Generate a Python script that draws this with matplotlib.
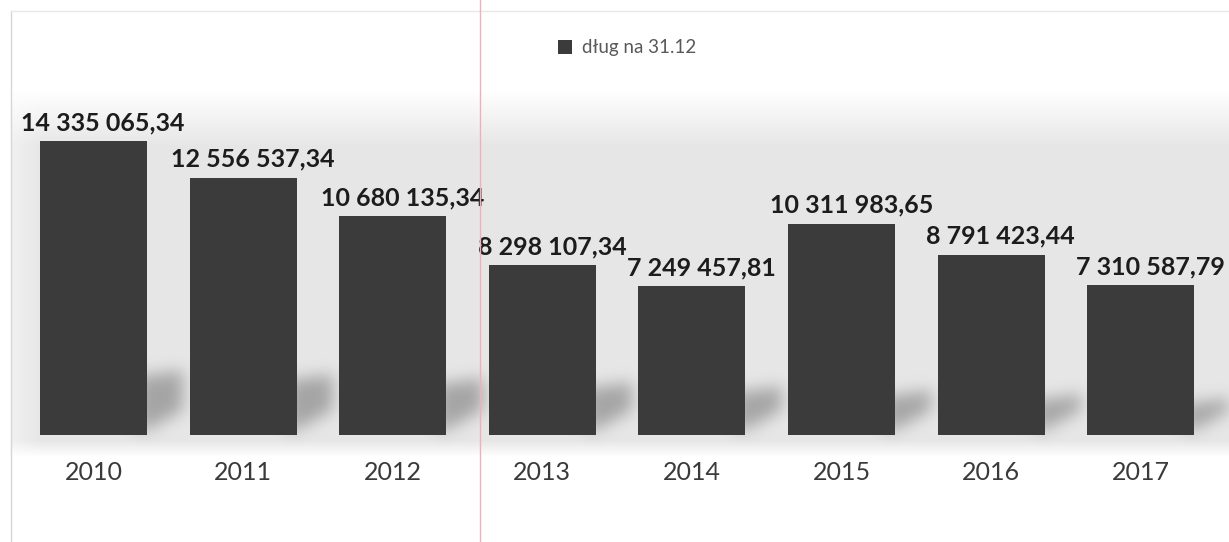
import numpy as np
import matplotlib
matplotlib.use('Agg')
import matplotlib.pyplot as plt
from matplotlib.lines import Line2D

plt.rcParams['font.family'] = ['Lato', 'DejaVu Sans']

# data
years = ['2010', '2011', '2012', '2013', '2014', '2015', '2016', '2017']
debt = [14335065.34, 12556537.34, 10680135.34, 8298107.34,
        7249457.81, 10311983.65, 8791423.44, 7310587.79]
series_name = 'dług na 31.12'

bar_color = '#3b3b3b'
W, H = 1229, 542


def pl_format(v):
    # 14 335 065,34 style
    s = f'{v:,.2f}'
    return s.replace(',', ' ').replace('.', ',')


def blur(img, sigma):
    r = int(3 * sigma)
    k = np.exp(-0.5 * (np.arange(-r, r + 1) / sigma) ** 2)
    k /= k.sum()
    img = np.apply_along_axis(lambda m: np.convolve(m, k, mode='same'), 1, img)
    img = np.apply_along_axis(lambda m: np.convolve(m, k, mode='same'), 0, img)
    return img


fig = plt.figure(figsize=(W / 100, H / 100), dpi=100)
ax = fig.add_axes([18.7 / W, (H - 435) / H, (1215.5 - 18.7) / W, (435 - 60) / H])
ax.set_xlim(-0.5, len(years) - 0.5)
ax.set_ylim(0, 18.3e6)
x = np.arange(len(years))
width = 0.715

# background: grey wall with soft shadows behind the bars (pixel space, top-down)
yy, xx = np.mgrid[0:H, 0:W]
shade = np.zeros((H, W))
top_ramp = np.clip((yy - 90) / 55.0, 0, 1)
bot_ramp = np.clip((456 - yy) / 16.0, 0, 1)
left_ramp = np.clip((xx - 11) / 30.0, 0, 1)
shade += 0.095 * top_ramp * bot_ramp * (0.6 + 0.4 * left_ramp) * (xx > 11)

sh = np.zeros((H, W))
n = len(debt)
for i, v in enumerate(debt):
    px_r = ax.transData.transform((i + width / 2, 0))[0]
    base = H - ax.transData.transform((0, 0))[1]
    h = 60 - 28 * i / (n - 1)
    dx = xx - px_r
    inside = (dx >= -10) & (dx <= 36)
    top_edge = base - h - 0.15 * np.clip(dx, 0, None)
    bot_edge = base - 6 - 0.55 * np.clip(dx, 0, None)
    sh += inside & (yy >= top_edge) & (yy <= bot_edge)
sh = blur(sh.astype(float), 8)
shade += 0.26 * sh
gray = 1.0 - np.clip(shade, 0, 0.6)
bg = np.dstack([gray, gray, gray])

bg_ax = fig.add_axes([0, 0, 1, 1], zorder=-1)
bg_ax.imshow(bg, extent=[0, W, 0, H], aspect='auto', interpolation='bilinear')
bg_ax.set_xlim(0, W)
bg_ax.set_ylim(0, H)
bg_ax.axis('off')
ax.patch.set_alpha(0)

bars = ax.bar(x, debt, width=width, color=bar_color, zorder=3, label=series_name)

for xi, v in zip(x, debt):
    ax.annotate(pl_format(v), (xi, v), xytext=(7, 5), textcoords='offset points',
                ha='center', va='bottom', fontsize=18, fontweight='bold',
                color='#1c1c1c', zorder=4)

ax.set_xticks(x)
ax.set_xticklabels(years, fontsize=18, color='#3a3a3a')
ax.tick_params(axis='x', length=0, pad=19)
ax.set_yticks([])
for s in ax.spines.values():
    s.set_visible(False)

fig.legend(handles=[bars], labels=[series_name], loc='center',
           bbox_to_anchor=(627 / W, 1 - 48 / H), frameon=False,
           fontsize=13.5, labelcolor='#595959', handlelength=0.75,
           handleheight=0.75, handletextpad=0.5)

# scan artefacts: frame edges and the pink fold line
fig.add_artist(Line2D([11 / W, 11 / W], [0, 1 - 11 / H], color='#d6d6d6', lw=1))
fig.add_artist(Line2D([11 / W, 1], [1 - 11 / H, 1 - 11 / H], color='#e8e8e8', lw=1))
fig.add_artist(Line2D([480 / W, 480 / W], [0, 1], color='#eeb0bc', lw=1))

fig.savefig('out.png', dpi=100)
